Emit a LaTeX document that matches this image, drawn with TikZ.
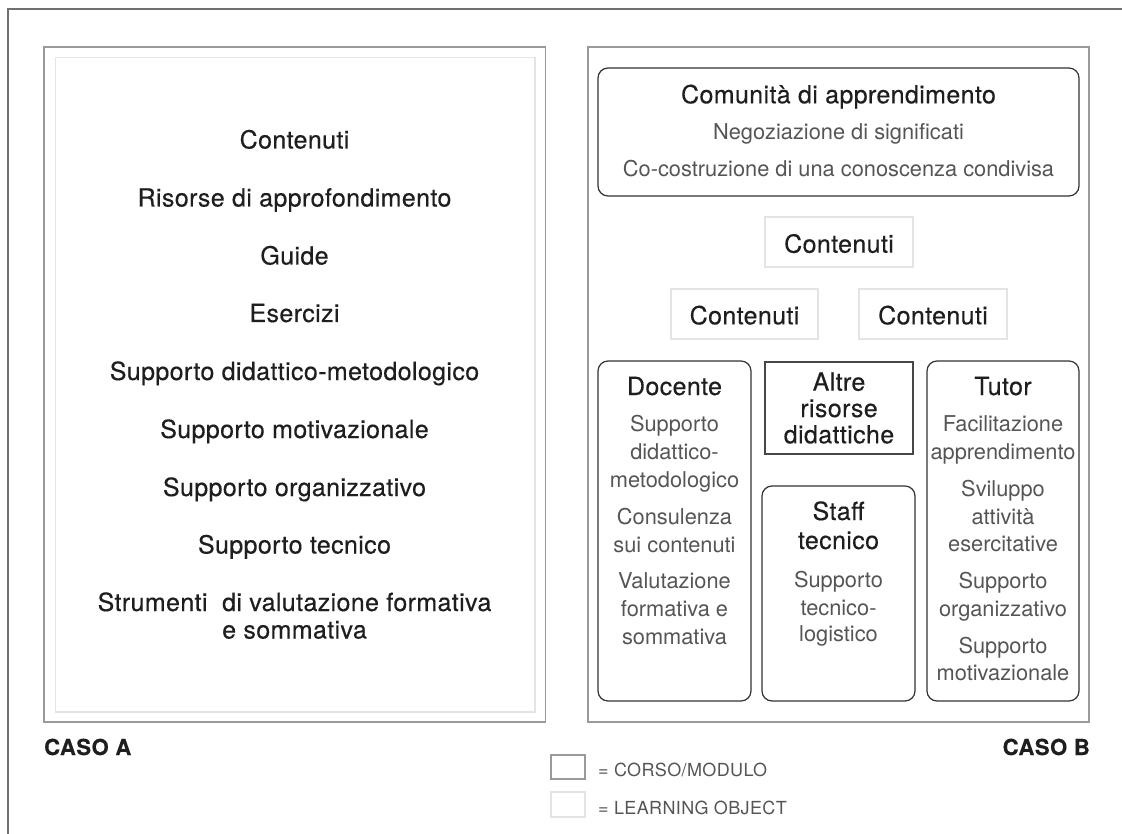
\documentclass[tikz,border=0pt]{standalone}
\usepackage{fontspec}
\setmainfont{TeX Gyre Heros}
\newfontfamily\headfont[LetterSpace=1.5,FakeBold=0.35]{TeX Gyre Heros}
\newfontfamily\boldhead[LetterSpace=2.5,FakeBold=0.4]{TeX Gyre Heros}
\newfontfamily\legfont[LetterSpace=2]{TeX Gyre Heros}
\definecolor{framegray}{HTML}{707070}
\definecolor{casegray}{HTML}{9A9A9A}
\definecolor{lobgray}{HTML}{E4E4E4}
\definecolor{inkdark}{HTML}{1E1E1E}
\definecolor{inklight}{HTML}{555555}
\definecolor{roundedge}{HTML}{333333}
\tikzset{
  casebox/.style={draw=casegray, line width=1.4pt, inner sep=0pt},
  lobox/.style={draw=lobgray, line width=1.4pt, inner sep=0pt},
  rolebox/.style={draw=roundedge, line width=1.2pt, rounded corners=10pt, inner sep=0pt},
  resbox/.style={draw=roundedge!90, line width=1.2pt, inner sep=0pt},
  headtxt/.style={anchor=base, inner sep=0pt, text=inkdark, font=\headfont\fontsize{25}{30}\selectfont},
  subtxt/.style={anchor=base, inner sep=0pt, text=inklight, font=\fontsize{21.8}{26}\selectfont},
  casetxt/.style={inner sep=0pt, text=inkdark, font=\boldhead\bfseries\fontsize{22}{26}\selectfont},
  legtxt/.style={anchor=base west, inner sep=0pt, text=inklight, font=\legfont\fontsize{18}{21}\selectfont},
}
\begin{document}
\begin{tikzpicture}[x=1pt, y=-1pt]
\useasboundingbox (0,0) rectangle (1122,834);

% outer frame (only its top and left sides fall inside the page)
\coordinate (ftr) at (1130,9);
\coordinate (ftl) at (8,9);
\coordinate (fbl) at (8,840);
\draw[framegray, line width=1.3pt] (ftr) -- (ftl) -- (fbl);

% ---- CASO A ----
\node[casebox, minimum width=501.5, minimum height=675] (caseA) at (294.75,384.5) {};
\node[lobox, line width=1.8pt, minimum width=479.5, minimum height=654.5] (loA) at (295.25,384.75) {};
\foreach \t/\y [count=\i] in {
  Contenuti/148.5,
  Risorse di approfondimento/206.5,
  Guide/264.5,
  Esercizi/322,
  Supporto didattico-metodologico/380,
  Supporto motivazionale/438,
  Supporto organizzativo/496,
  Supporto tecnico/553.5,
  Strumenti\ \ di valutazione formativa/611,
  e sommativa/638.5}
  \node[headtxt] (a\i) at (294.5,\y) {\t};
\node[casetxt, anchor=base west] (labA) at (44,755) {CASO A};

% ---- CASO B ----
\node[casebox, minimum width=501, minimum height=675] (caseB) at (838.5,384.5) {};

% learning community
\node[rolebox, minimum width=481, minimum height=128] (com) at (838.5,132) {};
\node[headtxt] (comT) at (838.5,103.3) {Comunità di apprendimento};
\node[subtxt] (com1) at (838.5,140) {Negoziazione di significati};
\node[subtxt] (com2) at (838.5,176.7) {Co-costruzione di una conoscenza condivisa};

% content learning objects
\node[lobox, minimum width=148, minimum height=50] (c1) at (839,242) {};
\node[headtxt] at (c1.center) [yshift=-10.7pt] {Contenuti};
\node[lobox, minimum width=147, minimum height=50] (c2) at (744.5,314) {};
\node[headtxt] at (c2.center) [yshift=-10.3pt] {Contenuti};
\node[lobox, minimum width=148, minimum height=50] (c3) at (933,314) {};
\node[headtxt] at (c3.center) [yshift=-10.3pt] {Contenuti};

% teacher
\node[rolebox, minimum width=153, minimum height=340] (doc) at (674.5,531) {};
\node[headtxt] (docT) at (674.5,395) {Docente};
\foreach \t/\y [count=\i] in {
  Supporto/431.7, didattico-/459.5, metodologico/487,
  Consulenza/524.3, sui contenuti/552,
  Valutazione/588.7, formativa e/616.5, sommativa/644}
  \node[subtxt] (doc\i) at (674.5,\y) {\t};

% other resources
\node[resbox, minimum width=148, minimum height=92] (alt) at (839,408) {};
\node[headtxt] (alt1) at (839,390.7) {Altre};
\node[headtxt] (alt2) at (839,417) {risorse};
\node[headtxt] (alt3) at (839,443.3) {didattiche};

% technical staff
\node[rolebox, minimum width=153, minimum height=215] (stf) at (838.5,593.5) {};
\node[headtxt] (stfT1) at (838.5,520) {Staff};
\node[headtxt] (stfT2) at (838.5,549) {tecnico};
\foreach \t/\y [count=\i] in {Supporto/587.3, tecnico-/615, logistico/641.7}
  \node[subtxt] (stf\i) at (838.5,\y) {\t};

% tutor
\node[rolebox, minimum width=152, minimum height=340] (tut) at (1003,531) {};
\node[headtxt] (tutT) at (1003,395) {Tutor};
\foreach \t/\y [count=\i] in {
  Facilitazione/431.7, apprendimento/459.5,
  Sviluppo/496.7, attività/524, esercitative/551.7,
  Supporto/588.3, organizzativo/616.5,
  Supporto/653.3, motivazionale/680}
  \node[subtxt] (tut\i) at (1003,\y) {\t};

\node[casetxt, anchor=base east] (labB) at (1090,755) {CASO B};

% ---- legend ----
\node[casebox, line width=1.2pt, minimum width=34, minimum height=24] (leg1) at (568,767) {};
\node[legtxt] (leg1T) at (598,776.7) {= CORSO/MODULO};
\node[lobox, line width=1.2pt, minimum width=34, minimum height=25] (leg2) at (568,804.5) {};
\node[legtxt] (leg2T) at (598,814) {= LEARNING OBJECT};
\end{tikzpicture}
\end{document}
